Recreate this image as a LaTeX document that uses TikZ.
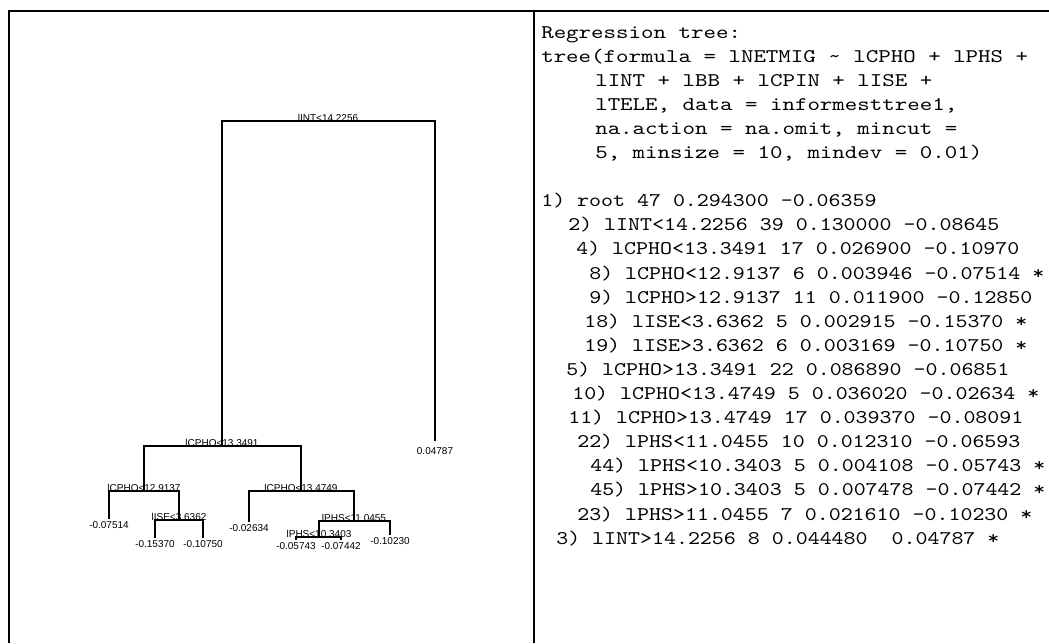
\documentclass[tikz,border=0pt]{standalone}
\usepackage{fontspec}
\setsansfont{Liberation Sans}
\setmonofont[FakeStretch=1.18]{lmmono10-regular.otf}
\newfontfamily\headmono[FakeStretch=1.23]{lmmono10-regular.otf}
\usepackage{tikz}

\begin{document}
\begin{tikzpicture}[
    x=0.75pt, y=-0.75pt,
    split/.style={anchor=base, inner sep=0pt, font=\sffamily\fontsize{7.5}{8}\selectfont},
    leaf/.style={anchor=north, inner sep=1.5pt, font=\sffamily\fontsize{7.5}{8}\selectfont},
    branch/.style={line width=1pt},
    outline/.style={line width=1.1pt},
    codeline/.style={anchor=base west, inner sep=0pt, font=\ttfamily\fontsize{14.5}{17}\selectfont},
    codehead/.style={codeline, font=\headmono\fontsize{14.5}{17}\selectfont},
]
    \useasboundingbox (0,0) rectangle (1049,643);

    % Frame
    \coordinate (tl) at (9,11);
    \coordinate (tr) at (1049,11);
    \coordinate (bl) at (9,643);
    \coordinate (mt) at (534,11);
    \coordinate (mb) at (534,643);
    \draw[outline] (bl) -- (tl) -- (tr);
    \draw[outline] (mt) -- (mb);

    % Splits
    \coordinate (n1) at (328,121);
    \coordinate (n2) at (222,446);
    \coordinate (n4) at (144,491);
    \coordinate (n9) at (179,520);
    \coordinate (n5) at (301,491);
    \coordinate (n11) at (354,521);
    \coordinate (n22) at (319,537);
    \node[split] (s1) at (n1) {lINT<14.2256};
    \node[split] (s2) at (n2) {lCPHO<13.3491};
    \node[split] (s4) at (n4) {lCPHO<12.9137};
    \node[split] (s9) at (n9) {lISE<3.6362};
    \node[split] (s5) at (n5) {lCPHO<13.4749};
    \node[split] (s11) at (n11) {lPHS<11.0455};
    \node[split] (s22) at (n22) {lPHS<10.3403};

    % Leaves
    \node[leaf, inner ysep=5pt] (n3) at (435,441) {0.04787};
    \node[leaf] (n8) at (109,519) {-0.07514};
    \node[leaf] (n18) at (155,538) {-0.15370};
    \node[leaf] (n19) at (203,538) {-0.10750};
    \node[leaf] (n10) at (249,522) {-0.02634};
    \node[leaf] (n44) at (296,540) {-0.05743};
    \node[leaf] (n45) at (341,540) {-0.07442};
    \node[leaf] (n23) at (390,535) {-0.10230};

    % Branches
    \draw[branch] (n2) |- (n1) -| (n3);
    \draw[branch] (n4) |- (n2) -| (n5);
    \draw[branch] (n8) |- (n4) -| (n9);
    \draw[branch] (n18) |- (n9) -| (n19);
    \draw[branch] (n10) |- (n5) -| (n11);
    \draw[branch] (n22) |- (n11) -| (n23);
    \draw[branch] (n44) |- (n22) -| (n45);

    % Call
    \foreach \row/\xx/\txt [count=\i] in {
        0/541/{Regression tree:},
        1/541/{tree(formula = lNETMIG \textasciitilde{} lCPHO + lPHS +},
        2/595/{lINT + lBB + lCPIN + lISE +},
        3/595/{lTELE, data = informesttree1,},
        4/595/{na.action = na.omit, mincut =},
        5/595/{5, minsize = 10, mindev = 0.01)}}
        \node[codehead] (head\i) at (\xx,{38+24.1*\row}) {\txt};

    % Printed tree
    \foreach \row/\xx/\txt [count=\i] in {
        7/541/{1) root 47 0.294300 -0.06359},
        8/568/{2) lINT<14.2256 39 0.130000 -0.08645},
        9/576/{4) lCPHO<13.3491 17 0.026900 -0.10970},
        10/589/{8) lCPHO<12.9137 6 0.003946 -0.07514 *},
        11/589/{9) lCPHO>12.9137 11 0.011900 -0.12850},
        12/584/{18) lISE<3.6362 5 0.002915 -0.15370 *},
        13/584/{19) lISE>3.6362 6 0.003169 -0.10750 *},
        14/566/{5) lCPHO>13.3491 22 0.086890 -0.06851},
        15/572/{10) lCPHO<13.4749 5 0.036020 -0.02634 *},
        16/568/{11) lCPHO>13.4749 17 0.039370 -0.08091},
        17/577/{22) lPHS<11.0455 10 0.012310 -0.06593},
        18/590/{44) lPHS<10.3403 5 0.004108 -0.05743 *},
        19/590/{45) lPHS>10.3403 5 0.007478 -0.07442 *},
        20/577/{23) lPHS>11.0455 7 0.021610 -0.10230 *},
        21/556/{3) lINT>14.2256 8 0.044480\ \ 0.04787 *}}
        \node[codeline] (line\i) at (\xx,{38+24.1*\row}) {\txt};
\end{tikzpicture}
\end{document}
